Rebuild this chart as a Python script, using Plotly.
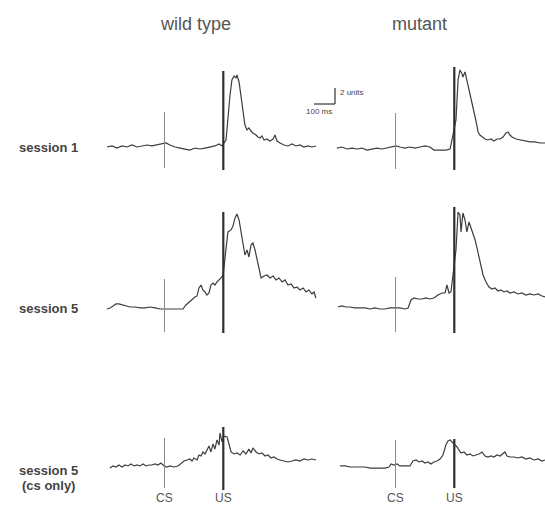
import plotly.graph_objects as go

# ---------------- data (time in ms relative to CS onset, amplitude in units) ----------------
cs_time = 0
us_time = 280

wt_s1_t = [-274, -250, -226, -202, -179, -155, -131, -107, -83, -60, -36, -12, 7, 26, 50, 74, 98, 121, 145, 169,
           193, 217, 240, 260, 274, 293, 302, 312, 321, 331, 340, 345, 355, 364, 374, 383, 393, 402, 412, 421,
           436, 445, 455, 464, 474, 488, 502, 517, 526, 536, 550, 569, 588, 607, 626, 645, 664, 683, 702, 721]
wt_s1_v = [0, 0.13, -0.13, 0.13, 0, 0.25, 0, 0.13, 0.25, 0.13, 0.25, 0.38, 0.5, 0.25, 0, -0.13, -0.25, -0.38, -0.13, -0.25,
           -0.13, 0, 0.13, 0.38, 0.13, 0.88, 4.0, 6.5, 8.38, 8.88, 8.63, 9.0, 8.13, 6.25, 4.38, 2.75, 2.13, 2.38, 2.0, 1.75,
           1.5, 1.25, 1.13, 1.38, 0.88, 1.0, 0.75, 1.0, 1.5, 0.75, 0.5, 0.25, 0.13, 0.38, 0.13, 0.25, 0, 0.13, 0, 0.13]

mu_s1_t = [-279, -255, -231, -207, -183, -160, -136, -112, -88, -64, -40, -17, 2, 21, 45, 69, 93, 117, 140, 164,
           183, 212, 240, 260, 288, 298, 307, 317, 321, 331, 340, 345, 355, 364, 374, 379, 388, 393, 402, 412,
           426, 440, 455, 469, 483, 498, 512, 526, 536, 545, 555, 574, 593, 617, 640, 664, 688, 712]
mu_s1_v = [-0.13, 0, -0.25, -0.13, -0.25, -0.13, -0.38, -0.25, -0.13, -0.25, -0.13, 0, 0.13, 0, -0.13, 0, -0.13, 0, 0.13, 0,
           -0.38, -0.38, -0.38, -0.25, 3.38, 8.38, 9.63, 9.13, 8.75, 9.38, 8.38, 7.5, 6.5, 5.5, 4.38, 3.75, 2.63, 1.88, 1.5, 1.25,
           1.0, 0.88, 1.0, 0.75, 1.0, 1.0, 1.25, 1.75, 1.88, 1.5, 1.25, 1.0, 0.88, 0.75, 0.63, 0.63, 0.5, 0.5]

wt_s5_t = [-274, -260, -245, -231, -217, -202, -183, -164, -140, -117, -93, -69, -45, -21, 2, 26, 50, 74, 88, 102,
           117, 131, 145, 155, 164, 174, 183, 193, 202, 212, 221, 231, 240, 250, 260, 269, 279, 293, 302, 317,
           326, 336, 345, 355, 364, 374, 383, 393, 402, 412, 421, 431, 440, 450, 460, 474, 488, 502, 517, 531,
           545, 560, 574, 588, 602, 617, 631, 645, 660, 674, 688, 702, 712, 721]
wt_s5_v = [0, 0.13, 0.38, 0.63, 0.63, 0.5, 0.38, 0.25, 0.25, 0.13, 0.13, 0.25, 0.13, 0, 0, 0, 0, 0, 0, 0.5,
           0.88, 1.13, 1.5, 1.63, 2.63, 3.0, 2.38, 2.13, 1.75, 2.0, 3.0, 3.25, 3.0, 3.38, 3.63, 3.88, 4.25, 7.38, 9.63, 9.88,
           10.38, 11.38, 11.88, 11.13, 9.88, 8.0, 6.75, 7.38, 6.5, 8.0, 8.25, 7.38, 6.38, 5.13, 3.88, 4.13, 4.25, 3.88, 4.13, 3.63,
           3.88, 3.38, 3.63, 3.0, 3.13, 2.63, 2.75, 2.38, 2.63, 2.13, 2.38, 1.88, 2.13, 1.38]

mu_s5_t = [-274, -255, -236, -217, -193, -169, -145, -121, -98, -74, -50, -26, 2, 21, 45, 60, 74, 88, 107, 126,
           145, 164, 183, 202, 221, 236, 245, 255, 264, 288, 298, 307, 312, 321, 331, 340, 350, 360, 369, 379,
           388, 398, 407, 417, 431, 445, 460, 474, 488, 502, 517, 531, 545, 564, 583, 602, 621, 640, 660, 679,
           698, 712]
mu_s5_v = [0.25, 0.38, 0.25, 0.25, 0.13, 0.13, 0.13, 0, 0.13, 0, 0, 0.13, 0.13, 0.13, 0, 0.13, 1.13, 1.38, 1.25, 1.25,
           1.38, 1.25, 1.38, 1.75, 2.0, 2.0, 3.0, 2.0, 2.13, 7.38, 12.13, 11.75, 9.63, 12.0, 11.13, 9.63, 10.88, 10.13, 9.25, 8.63,
           7.63, 6.38, 5.38, 4.25, 3.38, 2.75, 2.5, 2.63, 2.25, 2.38, 2.13, 2.25, 2.0, 2.13, 1.88, 2.0, 1.75, 1.88, 1.75, 1.88,
           1.63, 1.5]

wt_cs_t = [-260, -245, -231, -217, -202, -188, -174, -160, -145, -131, -117, -102, -88, -74, -60, -45, -31, -17, -2, 12,
           26, 45, 64, 79, 93, 107, 121, 131, 140, 155, 164, 174, 183, 193, 202, 212, 221, 231, 240, 250,
           260, 264, 274, 283, 298, 307, 317, 331, 345, 360, 374, 388, 402, 412, 421, 436, 450, 464, 479, 493,
           507, 521, 536, 550, 569, 588, 607, 626, 645, 664, 683, 702, 721]
wt_cs_v = [-0.13, 0.13, 0, 0.25, 0, 0.25, 0.13, 0.38, 0.13, 0.25, 0.13, 0.38, 0.13, 0.25, 0.25, 0.38, 0.25, 0.5, 0.13, 0,
           0.13, 0, 0.13, 0.5, 0.75, 0.88, 1.0, 0.75, 1.13, 0.88, 1.5, 1.38, 1.88, 1.63, 2.13, 2.63, 1.88, 2.88, 2.25, 3.38,
           2.75, 4.25, 3.13, 3.88, 3.75, 2.75, 1.88, 1.63, 1.75, 1.5, 2.0, 1.63, 2.25, 1.75, 2.38, 1.88, 1.63, 1.75, 1.38, 1.5,
           1.13, 1.25, 1.0, 0.88, 0.75, 0.63, 0.75, 0.88, 0.75, 1.0, 0.88, 1.0, 0.88]

mu_cs_t = [-264, -240, -217, -193, -169, -145, -121, -98, -74, -50, -31, -21, -7, 7, 21, 45, 69, 83, 98, 112,
           126, 140, 155, 169, 183, 198, 212, 226, 240, 250, 260, 269, 293, 302, 312, 326, 340, 355, 369, 383,
           398, 412, 426, 440, 455, 469, 483, 498, 512, 521, 531, 545, 564, 583, 602, 621, 640, 660, 679, 698,
           712]
mu_cs_v = [0.13, 0.13, 0, 0, 0, 0, -0.13, -0.13, -0.13, -0.13, 0, 0.38, 0.25, 0.38, 0.13, 0.13, 0.13, 0.75, 0.88, 0.63,
           0.75, 0.5, 0.63, 0.38, 0.63, 0.75, 1.0, 1.5, 2.75, 3.25, 3.38, 3.13, 2.5, 2.13, 1.75, 1.88, 1.5, 1.63, 1.38, 1.5,
           1.63, 1.88, 1.38, 1.25, 1.38, 1.25, 1.5, 1.38, 1.75, 1.88, 1.38, 1.25, 1.25, 1.13, 1.25, 1.0, 1.13, 0.88, 1.0, 0.75,
           0.88]

column_titles = ["wild type", "mutant"]
row_labels = ["session 1", "session 5", "session 5", "(cs only)"]
event_labels = ["CS", "US"]
scale_ms = 100
scale_units = 2

# ---------------- layout helpers (pixel geometry of the page) ----------------
W, H = 545, 507
PX_PER_MS = 0.21
PX_PER_UNIT = 8.0


def fx(p):
    return p / W


def fy(p):
    return 1 - p / H


def xrange_for(px0, px1, cs_px):
    return [(px0 - cs_px) / PX_PER_MS, (px1 - cs_px) / PX_PER_MS]


def yrange_for(top_px, bot_px, base_px):
    return [(base_px - bot_px) / PX_PER_UNIT, (base_px - top_px) / PX_PER_UNIT]


TRACE = "#3d3d3d"
fig = go.Figure()

panels = [
    (wt_s1_t, wt_s1_v, "x", "y"), (mu_s1_t, mu_s1_v, "x2", "y"),
    (wt_s5_t, wt_s5_v, "x", "y2"), (mu_s5_t, mu_s5_v, "x2", "y2"),
    (wt_cs_t, wt_cs_v, "x", "y3"), (mu_cs_t, mu_cs_v, "x2", "y3"),
]
for t, v, xa, ya in panels:
    fig.add_trace(go.Scatter(x=t, y=v, xaxis=xa, yaxis=ya, mode="lines",
                             line=dict(color=TRACE, width=1.2), hoverinfo="skip", showlegend=False))

# CS / US marker lines (extent in units, per panel)
marker_extents = [
    ("x", "y", (-2.63, 4.38), (-2.88, 9.5)),
    ("x2", "y", (-2.75, 4.25), (-2.88, 10.0)),
    ("x", "y2", (-2.88, 3.75), (-3.0, 12.13)),
    ("x2", "y2", (-2.88, 4.0), (-3.0, 12.75)),
    ("x", "y3", (-2.63, 3.63), (-2.88, 5.0)),
    ("x2", "y3", (-2.63, 3.38), (-2.63, 3.5)),
]
shapes = []
for xa, ya, cs_ext, us_ext in marker_extents:
    shapes.append(dict(type="line", xref=xa, yref=ya, x0=cs_time, x1=cs_time, y0=cs_ext[0], y1=cs_ext[1],
                       line=dict(color="#8a8a8a", width=1)))
    shapes.append(dict(type="line", xref=xa, yref=ya, x0=us_time, x1=us_time, y0=us_ext[0], y1=us_ext[1],
                       line=dict(color="#2e2e2e", width=2.2)))

# scale bar (in left-column time axis and row-1 unit axis)
sb_t0 = (314 - 164.5) / PX_PER_MS
sb_u0 = (147 - 104) / PX_PER_UNIT
shapes.append(dict(type="line", xref="x", yref="y", x0=sb_t0, x1=sb_t0 + scale_ms, y0=sb_u0, y1=sb_u0,
                   line=dict(color="#333", width=1.2)))
shapes.append(dict(type="line", xref="x", yref="y", x0=sb_t0 + scale_ms, x1=sb_t0 + scale_ms,
                   y0=sb_u0, y1=sb_u0 + scale_units, line=dict(color="#333", width=1.2)))

annotations = []
FONT = "Liberation Sans, Arial, sans-serif"
for title, cx in zip(column_titles, [195, 419]):
    annotations.append(dict(text=title, x=fx(cx), y=fy(24), xref="paper", yref="paper", showarrow=False,
                            xanchor="center", yanchor="middle", font=dict(family=FONT, size=18, color="#555")))
for lab, cy in zip(row_labels, [148, 308, 470, 485]):
    annotations.append(dict(text="<b>%s</b>" % lab, x=fx(48), y=fy(cy), xref="paper", yref="paper",
                            showarrow=False, xanchor="center", yanchor="middle",
                            font=dict(family=FONT, size=13, color="#444")))
for xa in ["x", "x2"]:
    for lab, tt in zip(event_labels, [cs_time, us_time]):
        annotations.append(dict(text=lab, x=tt, y=fy(498), xref=xa, yref="paper", showarrow=False,
                                xanchor="center", yanchor="middle", font=dict(family=FONT, size=12, color="#555")))
annotations.append(dict(text="2 units", x=fx(338), y=fy(92), xref="paper", yref="paper", showarrow=False,
                        xanchor="left", yanchor="middle", font=dict(family=FONT, size=8, color="#444")))
annotations.append(dict(text="%d ms" % scale_ms, x=fx(319), y=fy(111), xref="paper", yref="paper", showarrow=False,
                        xanchor="center", yanchor="middle", font=dict(family=FONT, size=8, color="#444")))

hidden = dict(visible=False, showgrid=False, zeroline=False, fixedrange=True)
fig.update_layout(
    width=W, height=H, margin=dict(l=0, r=0, t=0, b=0),
    paper_bgcolor="white", plot_bgcolor="rgba(0,0,0,0)",
    xaxis=dict(hidden, domain=[fx(100), fx(340)], range=xrange_for(100, 340, 164.5), anchor="y3"),
    xaxis2=dict(hidden, domain=[fx(330), 1], range=xrange_for(330, 545, 395.5), anchor="y3"),
    yaxis=dict(hidden, domain=[fy(180), fy(55)], range=yrange_for(55, 180, 147), anchor="x"),
    yaxis2=dict(hidden, domain=[fy(340), fy(195)], range=yrange_for(195, 340, 309), anchor="x"),
    yaxis3=dict(hidden, domain=[fy(495), fy(420)], range=yrange_for(420, 495, 467), anchor="x"),
    shapes=shapes, annotations=annotations, showlegend=False,
)

fig.write_html("out.html")
